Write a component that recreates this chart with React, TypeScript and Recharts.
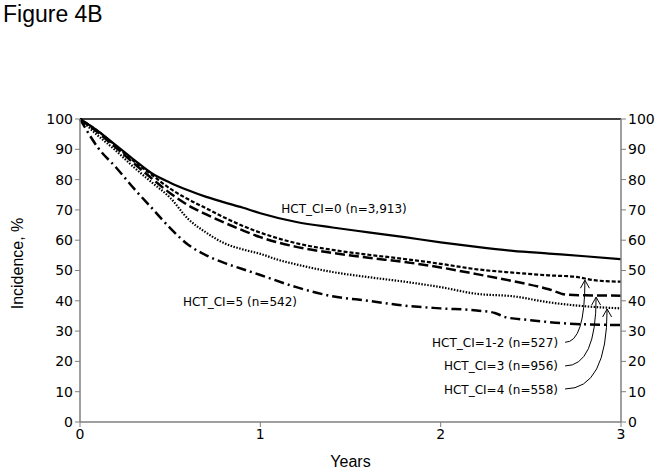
import React from 'react';
import {
  LineChart,
  Line,
  XAxis,
  YAxis,
  ReferenceLine,
  ReferenceDot,
} from 'recharts';

// Years since transplant per curve
const hct0Years = [0, 0.1, 0.2, 0.3, 0.4, 0.5, 0.6, 0.7, 0.8, 0.9, 1.0, 1.2, 1.4, 1.6, 1.8, 2.0, 2.2, 2.4, 2.6, 2.8, 3.0];
const hct0Values = [100, 96, 91.3, 86.5, 82, 79, 76.5, 74.3, 72.5, 70.8, 68.9, 66, 64.2, 62.6, 61, 59.3, 57.8, 56.5, 55.6, 54.7, 53.7];

const hct12Years = [0, 0.1, 0.2, 0.3, 0.4, 0.5, 0.6, 0.7, 0.8, 0.9, 1.0, 1.2, 1.4, 1.6, 1.8, 2.0, 2.2, 2.4, 2.6, 2.75, 2.85, 3.0];
const hct12Values = [100, 96, 91, 86, 81.5, 77, 73.5, 70.5, 67.5, 64.8, 62.5, 59, 56.8, 55.2, 53.8, 52.2, 50.4, 49.3, 48.4, 47.9, 46.8, 46.3];

const hct3Years = [0, 0.1, 0.2, 0.3, 0.4, 0.5, 0.6, 0.7, 0.8, 0.9, 1.0, 1.2, 1.4, 1.6, 1.8, 2.0, 2.2, 2.4, 2.6, 2.7, 2.8, 3.0];
const hct3Values = [100, 95.5, 90.5, 85.3, 80.3, 75.5, 71.5, 68.5, 65.8, 63.3, 61, 57.8, 55.8, 54.2, 52.8, 51, 48.8, 46.5, 43.8, 42, 41.8, 41.7];

const hct4Years = [0, 0.1, 0.2, 0.3, 0.4, 0.5, 0.6, 0.7, 0.8, 0.9, 1.0, 1.1, 1.2, 1.4, 1.6, 1.8, 2.0, 2.2, 2.4, 2.6, 2.8, 3.0];
const hct4Values = [100, 94.5, 89.5, 84, 79, 74, 67, 62.5, 59, 57, 55.5, 53.5, 52, 49.5, 47.8, 46.3, 44.5, 42.3, 41.5, 39.5, 38.2, 37.5];

const hct5Years = [0, 0.05, 0.1, 0.2, 0.3, 0.4, 0.5, 0.6, 0.7, 0.8, 0.9, 1.0, 1.2, 1.4, 1.6, 1.8, 2.0, 2.2, 2.3, 2.36, 2.5, 2.7, 3.0];
const hct5Values = [100, 95, 90.5, 84, 77, 70.5, 64, 58.5, 55, 52.5, 50.5, 48.5, 44.5, 41.5, 40, 38.4, 37.5, 36.8, 36, 34.6, 33.6, 32.5, 32];

const xTicks = [0, 1, 2, 3];
const yTicks = [0, 10, 20, 30, 40, 50, 60, 70, 80, 90, 100];

const toPoints = (xs: number[], ys: number[]) => xs.map((x, i) => ({ x, y: ys[i] }));

const axisGray = '#7f7f7f';
const tickStyle = { fontFamily: 'DejaVu Sans', fontSize: 14, fill: '#000' };
const noteStyle = { fontFamily: 'DejaVu Sans', fontSize: 12, fill: '#000' };

const CurvedArrow = (props: any) => {
  const { x1, y1, x2, y2 } = props;
  return (
    <g fill="none" stroke="#000" strokeWidth={1}>
      <path d={`M${x1},${y1} Q${x2},${y1} ${x2},${y2}`} />
      <path d={`M${x2 - 4.5},${y2 + 8} L${x2},${y2} L${x2 + 4.5},${y2 + 8}`} />
    </g>
  );
};

const App: React.FC = () => {
  return (
    <div style={{ position: 'absolute', left: 0, top: 0, width: 663, height: 471, background: '#fff' }}>
      <div
        style={{
          position: 'absolute',
          left: 3,
          top: 0,
          fontFamily: 'Liberation Sans',
          fontSize: 23,
          lineHeight: '28px',
        }}
      >
        Figure 4B
      </div>
      <LineChart width={663} height={471} margin={{ top: 119, right: 0, left: 0, bottom: 19 }}>
        <XAxis
          dataKey="x"
          type="number"
          domain={[0, 3]}
          ticks={xTicks}
          tick={tickStyle}
          axisLine={{ stroke: axisGray, strokeWidth: 1.5 }}
          tickLine={{ stroke: axisGray }}
          tickSize={5}
          height={30}
          label={{ value: 'Years', position: 'bottom', offset: 4, style: { fontFamily: 'Liberation Sans', fontSize: 16, fill: '#000' } }}
        />
        <YAxis
          yAxisId="left"
          domain={[0, 100]}
          ticks={yTicks}
          tick={tickStyle}
          axisLine={{ stroke: axisGray, strokeWidth: 1.5 }}
          tickLine={{ stroke: axisGray }}
          tickSize={5}
          width={80}
          label={{
            value: 'Incidence, %',
            angle: -90,
            position: 'insideLeft',
            offset: 17,
            dy: -7,
            style: { textAnchor: 'middle', fontFamily: 'Liberation Sans', fontSize: 16, fill: '#000' },
          }}
        />
        <YAxis
          yAxisId="right"
          orientation="right"
          domain={[0, 100]}
          ticks={yTicks}
          tick={tickStyle}
          axisLine={{ stroke: axisGray, strokeWidth: 1.5 }}
          tickLine={{ stroke: axisGray }}
          tickSize={5}
          width={42}
        />
        <ReferenceLine yAxisId="left" y={100} stroke="#000" strokeWidth={1.5} />

        {/* invisible copy so the right-hand axis gets its ticks */}
        <Line yAxisId="right" data={toPoints(hct0Years, hct0Values)} dataKey="y" stroke="none" dot={false} activeDot={false} isAnimationActive={false} />

        <Line yAxisId="left" data={toPoints(hct0Years, hct0Values)} dataKey="y" type="monotone" stroke="#000" strokeWidth={2.2} dot={false} isAnimationActive={false} />
        <Line yAxisId="left" data={toPoints(hct12Years, hct12Values)} dataKey="y" type="monotone" stroke="#000" strokeWidth={2.2} strokeDasharray="4 2" dot={false} isAnimationActive={false} />
        <Line yAxisId="left" data={toPoints(hct3Years, hct3Values)} dataKey="y" type="monotone" stroke="#000" strokeWidth={2.5} strokeDasharray="10 4" dot={false} isAnimationActive={false} />
        <Line yAxisId="left" data={toPoints(hct4Years, hct4Values)} dataKey="y" type="monotone" stroke="#000" strokeWidth={2.2} strokeDasharray="1.5 1.5" dot={false} isAnimationActive={false} />
        <Line yAxisId="left" data={toPoints(hct5Years, hct5Values)} dataKey="y" type="monotone" stroke="#000" strokeWidth={2.5} strokeDasharray="10 4 2 4" dot={false} isAnimationActive={false} />

        <ReferenceDot yAxisId="left" x={1.464} y={70.3} r={0} label={{ value: 'HCT_CI=0 (n=3,913)', position: 'center', style: noteStyle }} />
        <ReferenceDot yAxisId="left" x={0.887} y={39.7} r={0} label={{ value: 'HCT_CI=5 (n=542)', position: 'center', style: noteStyle }} />
        <ReferenceDot yAxisId="left" x={2.651} y={26.2} r={0} label={{ value: 'HCT_CI=1-2 (n=527)', position: 'left', offset: 0, style: noteStyle }} />
        <ReferenceDot yAxisId="left" x={2.651} y={18.5} r={0} label={{ value: 'HCT_CI=3 (n=956)', position: 'left', offset: 0, style: noteStyle }} />
        <ReferenceDot yAxisId="left" x={2.651} y={10.8} r={0} label={{ value: 'HCT_CI=4 (n=558)', position: 'left', offset: 0, style: noteStyle }} />

        <ReferenceLine yAxisId="left" segment={[{ x: 2.69, y: 26.3 }, { x: 2.8, y: 46.8 }]} shape={CurvedArrow} />
        <ReferenceLine yAxisId="left" segment={[{ x: 2.69, y: 18.5 }, { x: 2.862, y: 41.2 }]} shape={CurvedArrow} />
        <ReferenceLine yAxisId="left" segment={[{ x: 2.69, y: 10.9 }, { x: 2.923, y: 37.3 }]} shape={CurvedArrow} />
      </LineChart>
    </div>
  );
};

export default App;
